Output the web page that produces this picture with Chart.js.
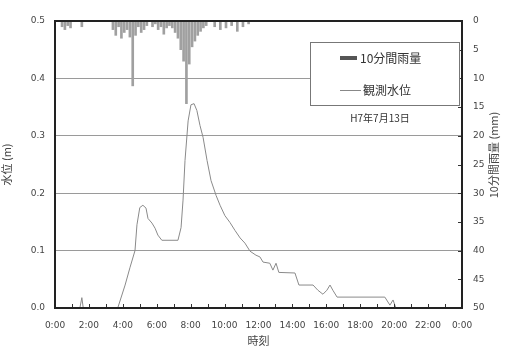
<!DOCTYPE html>
<html><head><meta charset="utf-8">
<script src="https://cdn.jsdelivr.net/npm/chart.js@4/dist/chart.umd.min.js"></script>
<style>html,body{margin:0;padding:0;background:#fff}canvas{display:block}</style>
</head><body>
<canvas id="c" width="505" height="349"></canvas>
<script>
// 10-minute rainfall: start minute of each slot and amount (mm)
const rainMinutes = [20, 30, 40, 50, 90,
  200, 210, 220, 230, 240, 250, 260, 270, 280, 290, 300, 310, 320,
  340, 350, 360, 370, 380, 390, 400,
  410, 420, 430, 440, 450, 460, 470, 480, 490, 500, 510, 520, 530,
  560, 580, 600, 620, 640, 660, 680];
const rainMm = [1.0, 1.5, 0.8, 1.2, 1.0,
  1.5, 2.5, 1.0, 3.0, 2.0, 1.5, 2.8, 11.3, 2.5, 1.0, 2.0, 1.5, 0.8,
  1.0, 0.5, 1.5, 1.0, 2.3, 1.2, 0.8,
  1.2, 2.0, 3.0, 5.0, 7.0, 14.4, 7.5, 4.5, 3.5, 2.5, 1.8, 1.2, 0.8,
  1.0, 1.5, 1.2, 0.8, 1.8, 1.0, 0.5];

// observed water level: minute of day and level (m)
const levelMinutes = [0, 88, 95, 100, 222, 248, 265, 283, 290, 300, 311, 322, 329, 343, 354, 364, 378,
  435, 446, 453, 460, 471, 481, 492, 502, 513, 524, 538, 552, 570, 584, 601, 619, 637, 655, 672,
  690, 711, 725, 736, 760, 771, 782, 792, 849, 863, 913, 930, 948, 962, 973, 983, 998,
  1167, 1185, 1196, 1206, 1440];
const levelM = [0, 0, 0.018, 0, 0, 0.04, 0.07, 0.10, 0.145, 0.175, 0.179, 0.174, 0.156, 0.148, 0.139, 0.127, 0.118,
  0.118, 0.14, 0.188, 0.257, 0.326, 0.354, 0.356, 0.344, 0.318, 0.297, 0.257, 0.222, 0.196, 0.179, 0.161, 0.149, 0.135, 0.122, 0.113,
  0.099, 0.092, 0.089, 0.08, 0.078, 0.066, 0.078, 0.062, 0.061, 0.04, 0.04, 0.031, 0.024, 0.031, 0.04, 0.031, 0.019,
  0.019, 0.005, 0.014, 0, 0];

const levelTicks = [0, 0.1, 0.2, 0.3, 0.4, 0.5];
const rainTicks = [0, 5, 10, 15, 20, 25, 30, 35, 40, 45, 50];
const timeTicks = [0, 120, 240, 360, 480, 600, 720, 840, 960, 1080, 1200, 1320, 1440];

const legendRain = '10分間雨量';
const legendLevel = '観測水位';
const dateNote = 'H7年7月13日';
const titleLevel = '水位 (m)';
const titleRain = '10分間雨量 (mm)';
const titleTime = '時刻';

const tickFont = {family: 'DejaVu Sans', size: 9};
const cjk = '"Noto Sans CJK JP"';
const tickColor = '#444';

const rainData = rainMinutes.map((m, i) => ({x: m + 5, y: rainMm[i]}));
const levelData = levelMinutes.map((m, i) => ({x: m, y: levelM[i]}));

const decor = {
  id: 'decor',
  afterDraw(chart) {
    const {ctx, chartArea: a, scales} = chart;
    const xs = scales.x, y2 = scales.y2;
    ctx.save();
    // inward tick marks: hourly on the time axis, every 5 mm on the rain axis
    ctx.strokeStyle = '#333';
    ctx.lineWidth = 1;
    ctx.beginPath();
    for (let m = 60; m < 1440; m += 60) {
      const px = Math.round(xs.getPixelForValue(m)) + 0.5;
      ctx.moveTo(px, a.bottom); ctx.lineTo(px, a.bottom - 4);
    }
    rainTicks.forEach(v => {
      const py = Math.round(y2.getPixelForValue(v)) + 0.5;
      ctx.moveTo(a.right, py); ctx.lineTo(a.right - 4, py);
    });
    ctx.stroke();
    // plot frame
    ctx.strokeStyle = '#222';
    ctx.lineWidth = 2;
    ctx.strokeRect(a.left, a.top, a.right - a.left, a.bottom - a.top);

    // legend box
    const bx = 310, by = 42, bw = 149, bh = 63;
    ctx.fillStyle = '#fff';
    ctx.fillRect(bx, by, bw, bh);
    ctx.strokeStyle = '#777';
    ctx.lineWidth = 1;
    ctx.strokeRect(bx + 0.5, by + 0.5, bw, bh);
    ctx.strokeStyle = '#555';
    ctx.lineWidth = 4;
    ctx.beginPath(); ctx.moveTo(340, 58); ctx.lineTo(357, 58); ctx.stroke();
    ctx.strokeStyle = '#888';
    ctx.lineWidth = 1;
    ctx.beginPath(); ctx.moveTo(340, 90.5); ctx.lineTo(361, 90.5); ctx.stroke();
    ctx.fillStyle = '#333';
    ctx.textBaseline = 'middle';
    ctx.textAlign = 'left';
    ctx.font = '12px ' + cjk;
    ctx.fillText(legendRain, 360, 58);
    ctx.fillText(legendLevel, 363, 90);
    ctx.textAlign = 'center';
    ctx.font = '10px ' + cjk;
    ctx.fillText(dateNote, 380, 118);

    // right axis title, reading upward
    ctx.translate(494, 155);
    ctx.rotate(-Math.PI / 2);
    ctx.font = '11px ' + cjk;
    ctx.fillStyle = '#444';
    ctx.fillText(titleRain, 0, 0);
    ctx.restore();
  }
};

new Chart(document.getElementById('c'), {
  type: 'bar',
  data: {
    datasets: [
      {
        type: 'bar', label: legendRain, data: rainData, yAxisID: 'y2', xAxisID: 'x',
        backgroundColor: '#a0a0a0', borderWidth: 0, barThickness: 2, order: 2
      },
      {
        type: 'line', label: legendLevel, data: levelData, yAxisID: 'y', xAxisID: 'x',
        borderColor: '#8a8a8a', borderWidth: 1, pointRadius: 0, fill: false, tension: 0, order: 1
      }
    ]
  },
  plugins: [decor],
  options: {
    responsive: false,
    animation: false,
    layout: {padding: {top: 21, left: 0, right: 0, bottom: 0}},
    plugins: {legend: {display: false}, tooltip: {enabled: false}},
    scales: {
      x: {
        type: 'linear', min: 0, max: 1440, offset: false,
        afterBuildTicks: s => { s.ticks = timeTicks.map(v => ({value: v})); },
        afterFit: s => { s.height = 41; },
        grid: {display: false},
        border: {display: false},
        ticks: {
          font: tickFont, color: tickColor, padding: 4, maxRotation: 0, autoSkip: false,
          callback: v => ((v / 60) % 24) + ':00'
        },
        title: {display: true, text: titleTime, font: {family: cjk, size: 11}, color: '#444', padding: {top: 0, bottom: 2}}
      },
      y: {
        position: 'left', min: 0, max: 0.5,
        afterBuildTicks: s => { s.ticks = levelTicks.map(v => ({value: v})); },
        afterFit: s => { s.width = 55; },
        grid: {color: ctx => (ctx.tick && (ctx.tick.value === 0 || ctx.tick.value === 0.5)) ? 'rgba(0,0,0,0)' : '#9a9a9a', lineWidth: 1, drawTicks: false},
        border: {display: false},
        ticks: {font: tickFont, color: tickColor, padding: 10, callback: v => Number(v).toFixed(1)},
        title: {display: true, text: titleLevel, font: {family: cjk, size: 11}, color: '#444', padding: {top: 0, bottom: 4}}
      },
      y2: {
        position: 'right', min: 0, max: 50, reverse: true,
        afterBuildTicks: s => { s.ticks = rainTicks.map(v => ({value: v})); },
        afterFit: s => { s.width = 43; },
        grid: {display: false, drawTicks: false},
        border: {display: false},
        ticks: {font: tickFont, color: tickColor, padding: 11}
      }
    }
  }
});
</script>
</body></html>
